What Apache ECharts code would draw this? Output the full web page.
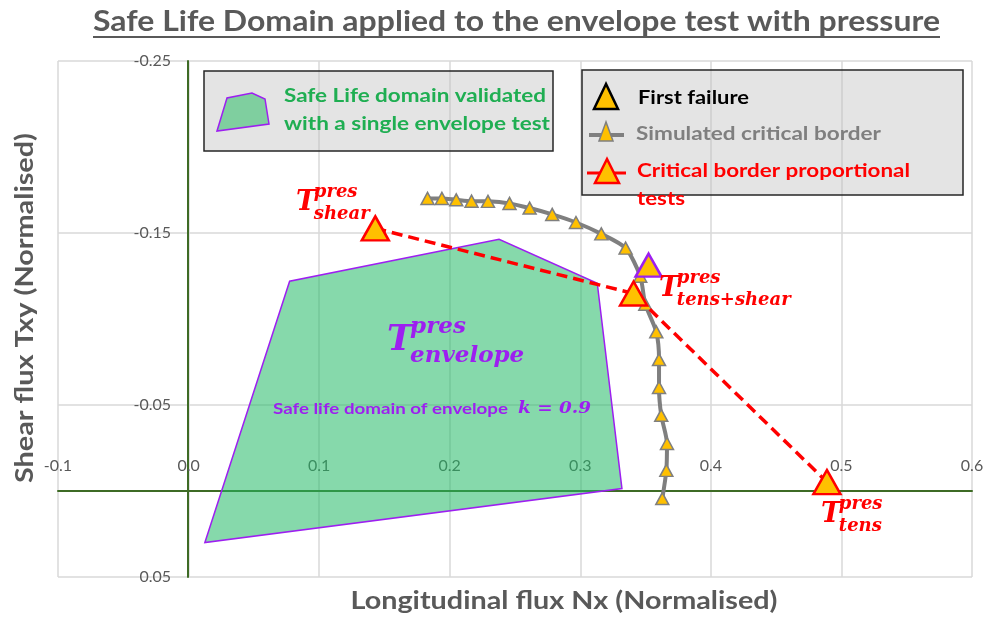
<!DOCTYPE html>
<html>
<head>
    <meta charset="utf-8">
    <title>Safe Life Domain</title>
    <script src="https://cdn.jsdelivr.net/npm/echarts@6/dist/echarts.min.js"></script>
    <style>
        html, body { margin: 0; padding: 0; background: #fff; }
        #chart { width: 987px; height: 621px; }
    </style>
</head>
<body>
<div id="chart"></div>
<script>
// envelope polygon (safe life domain, k = 0.9)
var envelopeNx = [0.0125, 0.0774, 0.2378, 0.3130, 0.3319];
var envelopeTxy = [0.030, -0.122, -0.1464, -0.1208, -0.0014];

// simulated critical border
var simNx = [0.183, 0.194, 0.205, 0.2167, 0.2293, 0.2458, 0.2612, 0.2785, 0.2967, 0.3161,
    0.3347, 0.3459, 0.3498, 0.3582, 0.3603, 0.3603, 0.362, 0.3664, 0.3659, 0.3628];
var simTxy = [-0.1701, -0.1701, -0.1693, -0.1685, -0.1684, -0.1672, -0.1645, -0.1608, -0.1561, -0.1495,
    -0.1412, -0.1249, -0.1086, -0.0925, -0.0764, -0.0602, -0.044, -0.0276, -0.012, 0.0044];

// critical border proportional tests (shear, tens+shear, tens)
var propNx = [0.143, 0.3408, 0.4889];
var propTxy = [-0.1527, -0.1148, -0.0052];

// first failure
var failNx = [0.3523];
var failTxy = [-0.1313];

var xTicks = { min: -0.1, max: 0.6, step: 0.1 };
var yTicks = { min: -0.25, max: 0.05, step: 0.1 };

var GREY = "#595959", RED = "#ff0000", PURPLE = "#9d1ff0", GOLD = "#ffc000", SIMGREY = "#7f7f7f";
var AXISGREEN = "#3e6b25";
var MATH = "'DejaVu Serif'";
var SANS = "Lato";

function pairs(a, b) {
    var out = [];
    for (var i = 0; i < a.length; i++) out.push([a[i], b[i]]);
    return out;
}

// the original text is drawn a bit wider than the fonts we have, so stretch it to width
var measureCtx = document.createElement("canvas").getContext("2d");

function txt(text, x, y, font, color, width, align, rot) {
    measureCtx.font = font;
    var sx = width ? width / measureCtx.measureText(text).width : 1;
    return {
        type: "text", x: x, y: y, z: 100, scaleX: sx, rotation: rot || 0,
        style: { text: text, font: font, fill: color, textAlign: align || "left", textVerticalAlign: "middle" }
    };
}

// T with superscript / subscript
function mathLabel(x, y, sup, sub, color, size, small) {
    var font = "bold italic " + size + "px " + MATH;
    var sfont = "bold italic " + small + "px " + MATH;
    var tw = size * 0.66;
    var a = txt("T", x, y, font, color),
        b = txt(sup, x + tw, y - size * 0.4, sfont, color),
        c = txt(sub, x + tw, y + size * 0.42, sfont, color);
    return [a, b, c];
}

var chart = echarts.init(document.getElementById("chart"));

var graphics = [
    // title + underline
    txt("Safe Life Domain applied to the envelope test with pressure", 516.5, 22, "bold 28px " + SANS, GREY, 847, "center"),
    { type: "rect", shape: { x: 93, y: 36, width: 847, height: 2 }, style: { fill: GREY }, z: 100 },
    // axis names
    txt("Shear flux Txy (Normalised)", 25, 308, "bold 24px " + SANS, GREY, 350, "center", Math.PI / 2),
    txt("Longitudinal flux Nx (Normalised)", 564, 601, "bold 24px " + SANS, GREY, 427, "center"),

    // legend box 1
    { type: "rect", shape: { x: 204, y: 71, width: 349, height: 80 }, z: 90,
        style: { fill: "rgba(190,190,190,0.42)", stroke: "#262626", lineWidth: 1.5 } },
    { type: "polygon", shape: { points: [[217, 131], [227, 98], [252, 93], [265, 99], [269, 124]] }, z: 91,
        style: { fill: "#7fcf9f", stroke: PURPLE, lineWidth: 1.5 } },
    txt("Safe Life domain validated", 284, 96, "bold 19px " + SANS, "#1fae52", 262),
    txt("with a single envelope test", 284, 124, "bold 19px " + SANS, "#1fae52", 266),

    // legend box 2
    { type: "rect", shape: { x: 582, y: 70, width: 381, height: 125 }, z: 90,
        style: { fill: "rgba(190,190,190,0.42)", stroke: "#262626", lineWidth: 1.5 } },
    { type: "polygon", shape: { points: [[606, 84], [594, 109], [618, 109]] }, z: 91,
        style: { fill: GOLD, stroke: "#000", lineWidth: 2.5 } },
    txt("First failure", 638, 98, "bold 19px " + SANS, "#000", 111),
    { type: "line", shape: { x1: 589, y1: 135, x2: 624, y2: 135 }, z: 91, style: { stroke: SIMGREY, lineWidth: 4 } },
    { type: "polygon", shape: { points: [[606, 122], [599, 141], [613, 141]] }, z: 92,
        style: { fill: GOLD, stroke: SIMGREY, lineWidth: 1.5 } },
    txt("Simulated critical border", 636, 134, "bold 19px " + SANS, SIMGREY, 245),
    { type: "line", shape: { x1: 587, y1: 173, x2: 626, y2: 173 }, z: 91, style: { stroke: RED, lineWidth: 3 } },
    { type: "polygon", shape: { points: [[607, 159], [595, 183], [619, 183]] }, z: 92,
        style: { fill: GOLD, stroke: RED, lineWidth: 2.5 } },
    txt("Critical border proportional", 637, 171, "bold 19px " + SANS, RED, 273),
    txt("tests", 637, 199, "bold 19px " + SANS, RED, 48),

    // labels inside the plot
    txt("Safe life domain of envelope", 273, 409, "bold 16px " + SANS, PURPLE, 235),
    txt("k = 0.9", 518, 409, "bold italic 17px " + MATH, PURPLE, 73)
].concat(
    mathLabel(296, 203, "pres", "shear", RED, 27, 18),
    mathLabel(659, 289, "pres", "tens+shear", RED, 27, 18),
    mathLabel(821, 515, "pres", "tens", RED, 27, 18),
    mathLabel(387, 341, "pres", "envelope", PURPLE, 35, 23)
);

var option = {
    backgroundColor: "#fff",
    animation: false,
    grid: { left: 58, top: 61, right: 15, bottom: 44 },
    xAxis: {
        type: "value", min: xTicks.min, max: xTicks.max, interval: xTicks.step,
        position: "bottom",
        offset: -86, // axis crosses at Txy = 0
        axisLine: { onZero: false, lineStyle: { color: AXISGREEN, width: 2 } },
        axisTick: { show: false },
        axisLabel: { inside: true, margin: 17, color: GREY, fontFamily: SANS, fontSize: 16,
            formatter: function(v) { return v.toFixed(1); } },
        splitLine: { show: true, lineStyle: { color: "#d9d9d9", width: 1.5 } }
    },
    yAxis: {
        type: "value", inverse: true, min: yTicks.min, max: yTicks.max, interval: yTicks.step,
        position: "left",
        offset: -130, // axis crosses at Nx = 0
        axisLine: { onZero: false, lineStyle: { color: AXISGREEN, width: 2 } },
        axisTick: { show: false },
        axisLabel: { margin: 17, color: GREY, fontFamily: SANS, fontSize: 16,
            formatter: function(v) { return v.toFixed(2); } },
        splitLine: { show: true, lineStyle: { color: "#d9d9d9", width: 1.5 } }
    },
    graphic: graphics,
    series: [{
            name: "Safe life domain",
            type: "custom",
            z: 2,
            data: [0],
            renderItem: function(params, api) {
                var pts = [];
                for (var i = 0; i < envelopeNx.length; i++) pts.push(api.coord([envelopeNx[i], envelopeTxy[i]]));
                return {
                    type: "polygon",
                    shape: { points: pts },
                    style: { fill: "rgba(35,186,102,0.55)", stroke: PURPLE, lineWidth: 1.5 }
                };
            }
        },
        {
            name: "Simulated critical border",
            type: "line",
            z: 3,
            smooth: 0.25,
            data: pairs(simNx, simTxy),
            lineStyle: { color: SIMGREY, width: 4 },
            symbol: "triangle",
            symbolSize: [13, 12],
            itemStyle: { color: GOLD, borderColor: SIMGREY, borderWidth: 1.5 }
        },
        {
            name: "Critical border proportional tests",
            type: "line",
            z: 4,
            data: pairs(propNx, propTxy),
            lineStyle: { color: RED, width: 3.5, type: [11, 6] },
            symbol: "triangle",
            symbolSize: [27, 24],
            itemStyle: { color: GOLD, borderColor: RED, borderWidth: 2.5 }
        },
        {
            name: "First failure",
            type: "scatter",
            z: 5,
            data: pairs(failNx, failTxy),
            symbol: "triangle",
            symbolSize: [26, 23],
            itemStyle: { color: GOLD, borderColor: PURPLE, borderWidth: 2.5, opacity: 1 }
        }
    ]
};

chart.setOption(option);
</script>
</body>
</html>
